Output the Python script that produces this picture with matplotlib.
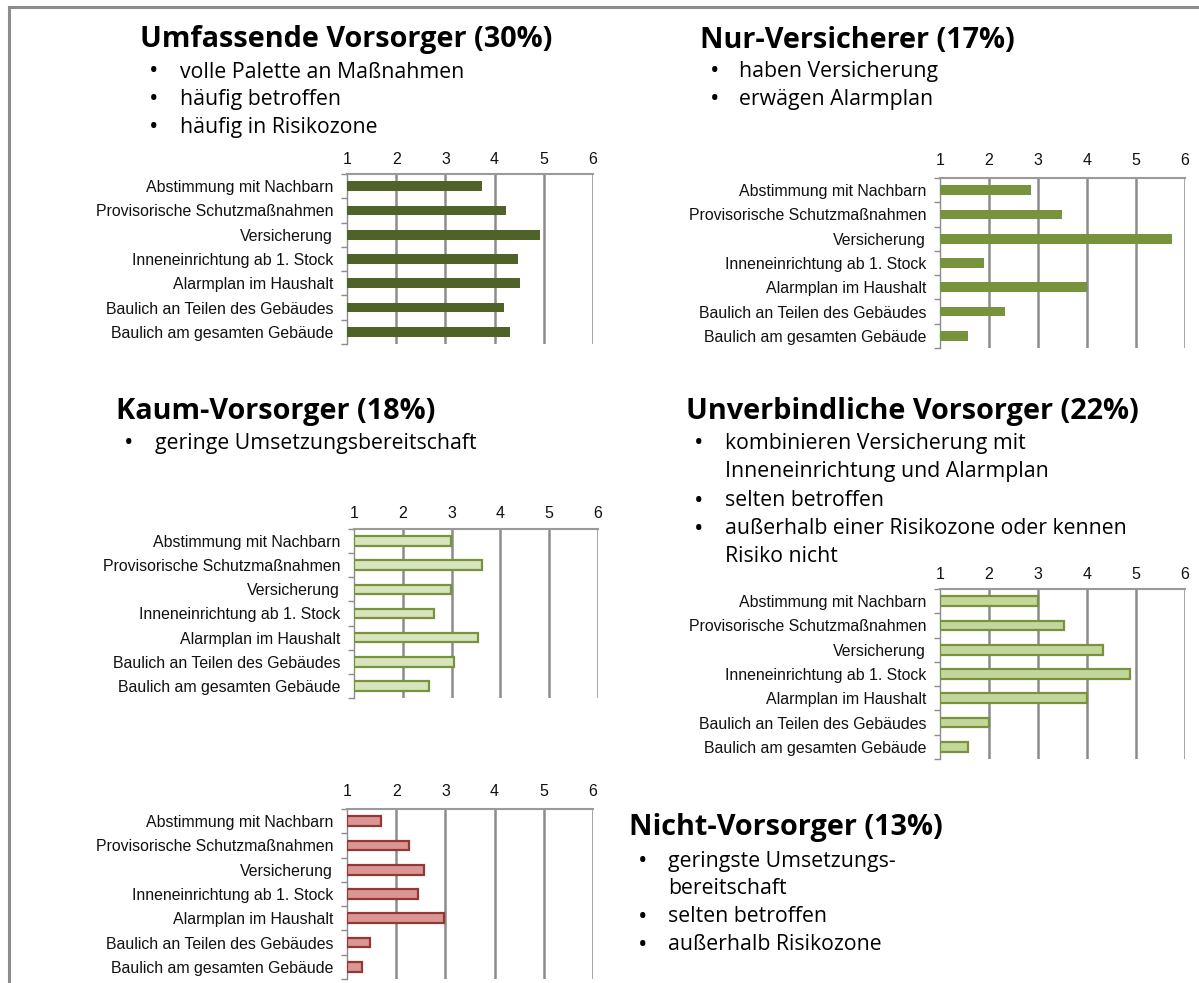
import matplotlib
matplotlib.use("Agg")
import matplotlib.pyplot as plt
import numpy as np

W, H = 1199, 983

categories = ["Abstimmung mit Nachbarn", "Provisorische Schutzmaßnahmen", "Versicherung",
              "Inneneinrichtung ab 1. Stock", "Alarmplan im Haushalt",
              "Baulich an Teilen des Gebäudes", "Baulich am gesamten Gebäude"]
xticks = [1, 2, 3, 4, 5, 6]

umfassende = [3.75, 4.23, 4.92, 4.48, 4.52, 4.20, 4.32]
nur_versicherer = [2.85, 3.49, 5.74, 1.90, 3.99, 2.32, 1.58]
kaum = [2.98, 3.63, 2.98, 2.64, 3.54, 3.05, 2.53]
unverbindliche = [3.00, 3.53, 4.32, 4.88, 3.99, 1.99, 1.57]
nicht = [1.70, 2.27, 2.56, 2.45, 2.98, 1.46, 1.30]

titles = ["Umfassende Vorsorger (30%)", "Nur-Versicherer (17%)", "Kaum-Vorsorger (18%)",
          "Unverbindliche Vorsorger (22%)", "Nicht-Vorsorger (13%)"]
bullets_1 = ["volle Palette an Maßnahmen", "häufig betroffen", "häufig in Risikozone"]
bullets_2 = ["haben Versicherung", "erwägen Alarmplan"]
bullets_3 = ["geringe Umsetzungsbereitschaft"]
bullets_4 = [["kombinieren Versicherung mit", "Inneneinrichtung und Alarmplan"], "selten betroffen",
             ["außerhalb einer Risikozone oder kennen", "Risiko nicht"]]
bullets_5 = [["geringste Umsetzungs-", "bereitschaft"], "selten betroffen", "außerhalb Risikozone"]

fig = plt.figure(figsize=(W / 100, H / 100), dpi=100)
fig.patch.set_facecolor("white")

def fx(x):
    return x / W

def fy(y):
    return 1 - y / H

# border lines
fig.add_artist(plt.Line2D([fx(9), fx(1199)], [fy(7), fy(7)], color="#8c8c8c", lw=2.2))
fig.add_artist(plt.Line2D([fx(9), fx(9)], [fy(7), fy(983)], color="#8c8c8c", lw=2.2))

LABEL_FONT = ["Liberation Sans", "DejaVu Sans"]
TITLE_FONT = ["Open Sans", "DejaVu Sans"]

def panel(left, right, top, bottom, values, face, edge, edge_lw, tick_y):
    ax = fig.add_axes([fx(left), fy(bottom), fx(right - left), (bottom - top) / H])
    n = len(categories)
    y = np.arange(n)
    ax.barh(y, np.array(values) - 1, left=1, height=0.40, color=face,
            edgecolor=edge, linewidth=edge_lw, zorder=3)
    ax.set_xlim(1, 6)
    ax.set_ylim(n - 0.5, -0.5)
    ax.set_xticks(xticks)
    ax.xaxis.tick_top()
    pad = (top - tick_y) * 0.72 - 7.5
    ax.tick_params(axis="x", length=0, pad=pad, labelsize=11.5, labelcolor="#111111")
    for lbl in ax.get_xticklabels():
        lbl.set_fontfamily(LABEL_FONT)
    ax.set_yticks(y)
    ax.set_yticklabels(categories, fontfamily=LABEL_FONT, fontsize=11.4, color="#111111")
    ax.tick_params(axis="y", length=0, pad=10)
    ax.set_yticks(np.arange(n + 1) - 0.5, minor=True)
    ax.tick_params(axis="y", which="minor", length=4, width=1, color="#8c8c8c", direction="out")
    for xv in xticks[1:]:
        ax.axvline(xv, color="#8c8c8c", lw=1.8, zorder=1)
    for s in ["right", "bottom"]:
        ax.spines[s].set_visible(False)
    ax.spines["top"].set_color("#9a9a9a")
    ax.spines["top"].set_linewidth(1.5)
    ax.spines["left"].set_color("#8c8c8c")
    ax.spines["left"].set_linewidth(1.0)
    ax.set_facecolor("none")
    return ax

panel(347, 593, 174, 344, umfassende, "#4F6228", "#4F6228", 0.0, 157)
panel(940, 1185, 178, 348, nur_versicherer, "#77933C", "#77933C", 0.0, 158)
panel(354, 598, 529, 698, kaum, "#D7E4BD", "#77933C", 1.6, 511)
panel(940, 1185, 589, 759, unverbindliche, "#C3D69B", "#77933C", 1.6, 572)
panel(347, 593, 809, 979, nicht, "#D99694", "#953735", 1.6, 789)

def text_block(title, tx, ty, bullets, bx, txx, ys):
    fig.text(fx(tx), fy(ty), title, fontsize=20.8, fontweight="bold", family=TITLE_FONT,
             ha="left", va="center", color="black")
    i = 0
    for b in bullets:
        lines = b if isinstance(b, list) else [b]
        fig.text(fx(bx), fy(ys[i]), "•", fontsize=18, family=TITLE_FONT, ha="center",
                 va="center", color="black")
        for ln in lines:
            fig.text(fx(txx), fy(ys[i]), ln, fontsize=15.3, family=TITLE_FONT, ha="left",
                     va="center", color="black")
            i += 1

text_block(titles[0], 140, 40, bullets_1, 154, 180, [72, 100, 128])
text_block(titles[1], 700, 40, bullets_2, 715, 739, [72, 99])
text_block(titles[2], 116, 412, bullets_3, 129, 155, [444])
text_block(titles[3], 686, 412, bullets_4, 699, 725, [444, 471, 501, 529, 557])
text_block(titles[4], 629, 828, bullets_5, 643, 668, [861, 888, 917, 945])

fig.savefig("out.png", dpi=100, facecolor="white")
